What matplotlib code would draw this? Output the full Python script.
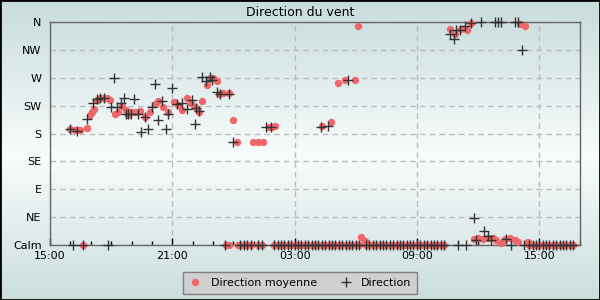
"""
Direction du vent sur 26 heures (moyenne et instantanée)
"""

import matplotlib
matplotlib.use('Agg')  # pas d'affichage
import matplotlib.pyplot as plt
from matplotlib.patches import Rectangle
import numpy as np

# heures écoulées depuis 15:00
moy_h = [0.98, 1.23, 1.47, 1.83, 1.96, 2.07, 2.17, 2.32, 2.45, 2.65, 2.81, 2.94,
         3.19, 3.35, 3.51, 3.71, 3.84, 3.92, 4.17, 4.41, 4.66, 4.90, 5.15, 5.31,
         5.55, 5.80, 6.09, 6.29, 6.49, 6.70, 6.91, 7.11, 7.30, 7.47, 7.68, 7.84,
         8.00, 8.17, 8.28, 8.50, 8.79, 8.99, 9.15, 9.97, 10.18, 10.46, 10.74, 10.90,
         11.03, 13.32, 13.77, 14.13, 14.49, 14.97, 15.11, 15.28, 15.44,
         19.61, 19.85, 20.18, 20.46, 20.67, 20.78, 20.99, 21.24, 21.49, 21.73,
         21.90, 22.14, 22.30, 22.58, 22.79, 22.96, 23.04, 23.28, 23.45]
moy_deg = [188, 185, 185, 189, 210, 215, 219, 234, 238, 238, 237, 234,
           212, 215, 225, 218, 210, 215, 214, 217, 206, 215, 227, 232,
           223, 215, 231, 226, 218, 237, 230, 223, 215, 232, 258, 270,
           269, 265, 243, 245, 245, 202, 166, 166, 166, 166, 190, 191,
           192, 192, 198, 261, 266, 266, 354, 13, 7,
           348, 341, 348, 347, 359, 9, 11, 9, 11, 12,
           8, 3, 9, 12, 8, 5, 357, 354, 5]

dir_h = [0.98, 1.31, 1.83, 2.12, 2.29, 2.45, 2.66, 2.98, 3.15, 3.27, 3.47, 3.63,
         3.73, 3.84, 3.97, 4.13, 4.33, 4.46, 4.66, 4.82, 4.99, 5.15, 5.31, 5.48,
         5.67, 5.80, 5.99, 6.21, 6.46, 6.70, 6.95, 7.11, 7.14, 7.30, 7.44, 7.63,
         7.84, 7.96, 8.17, 8.33, 8.79, 8.99, 10.62, 10.83, 13.28, 13.64, 14.62,
         19.61, 19.80, 19.94, 20.13, 20.34, 20.67, 20.78, 20.92, 21.16, 21.29,
         21.49, 21.65, 21.81, 21.98, 22.11, 22.39, 22.83, 22.96, 23.15]
dir_deg = [187, 184, 203, 229, 235, 238, 238, 223, 269, 222, 230, 238,
           212, 211, 211, 235, 211, 183, 206, 188, 223, 260, 202, 233,
           187, 212, 254, 227, 230, 220, 234, 195, 221, 216, 271, 265,
           271, 266, 247, 243, 243, 166, 190, 191, 191, 192, 266,
           340, 332, 347, 347, 353, 359, 43, 8, 360, 23,
           15, 8, 360, 360, 360, 9, 360, 360, 315]

# relevés en calme (direction 0)
calme_moy_h = [1.62, 8.63, 8.77, 9.22, 9.38, 9.53, 9.68, 9.84, 10.20, 10.40,
               11.00, 11.17, 11.33, 11.50, 11.67, 11.83, 12.00, 12.17, 12.33, 12.50,
               12.67, 12.83, 13.00, 13.17, 13.33, 13.50, 13.67, 13.83, 14.00, 14.17,
               14.33, 14.50, 14.67, 14.83, 15.00, 15.17, 15.50, 15.67, 15.83, 16.00,
               16.17, 16.33, 16.50, 16.67, 16.83, 17.00, 17.17, 17.33, 17.50, 17.67,
               17.83, 18.00, 18.17, 18.33, 18.50, 18.67, 18.83, 19.00, 19.17, 19.33,
               23.50, 23.67, 23.83, 24.00, 24.17, 24.33, 24.50, 24.67, 24.83, 25.00,
               25.17, 25.33, 25.50, 25.67]
calme_dir_h = [1.13, 1.62, 2.84, 8.60, 9.30, 9.50, 9.68, 9.84, 10.20, 10.40,
               11.00, 11.17, 11.33, 11.50, 11.67, 11.83, 12.00, 12.17, 12.33, 12.50,
               12.67, 12.83, 13.00, 13.17, 13.33, 13.50, 13.67, 13.83, 14.00, 14.17,
               14.33, 14.50, 14.67, 14.83, 15.00, 15.17, 15.50, 15.67, 15.83, 16.00,
               16.17, 16.33, 16.50, 16.67, 16.83, 17.00, 17.17, 17.33, 17.50, 17.67,
               17.83, 18.00, 18.17, 18.33, 18.50, 18.67, 18.83, 19.00, 19.17, 19.33,
               20.00, 20.40, 22.63, 23.24, 23.50, 23.67, 23.83, 24.00, 24.17, 24.33,
               24.50, 24.67, 24.83, 25.00, 25.17, 25.33, 25.50, 25.67]

directions = ['Calm', 'NE', 'E', 'SE', 'S', 'SW', 'W', 'NW', 'N']
heures_labels = ['15:00', '21:00', '03:00', '09:00', '15:00']

ROUGE = '#f0666a'
NOIR = '#333333'

fig = plt.figure(figsize=(6, 3), dpi=100)

# fond en dégradé (sarcelle -> blanc -> sarcelle)
bg = fig.add_axes([0, 0, 1, 1], zorder=-10)
t = np.linspace(0, 1, 300)
w = 1 - np.abs(t - 0.52) / 0.52
haut = np.array([200, 219, 219]) / 255
blanc = np.array([248, 252, 252]) / 255
grad = haut[None, :] + (blanc - haut)[None, :] * w[:, None]
bg.imshow(grad[:, None, :], aspect='auto', extent=[0, 1, 0, 1])
bg.axis('off')

ax = fig.add_axes([50 / 600, 55 / 300, 530 / 600, 223 / 300])
ax.patch.set_alpha(0)

ax.plot(moy_h, moy_deg, 'o', color=ROUGE, ms=5.3, mec='none', clip_on=False, zorder=3)
ax.plot(calme_moy_h, np.zeros(len(calme_moy_h)), 'o', color=ROUGE, ms=5.3, mec='none',
        clip_on=False, zorder=3)
ax.plot(dir_h, dir_deg, '+', color=NOIR, ms=7, mew=1, clip_on=False, zorder=4)
ax.plot(calme_dir_h, np.zeros(len(calme_dir_h)), '+', color=NOIR, ms=7, mew=1,
        clip_on=False, zorder=4)

ax.set_xlim(0, 26)
ax.set_ylim(0, 360)
ax.set_yticks(np.arange(0, 361, 45))
ax.set_yticklabels(directions)
ax.set_xticks([0, 6, 12, 18, 24])
ax.set_xticklabels(heures_labels)
ax.set_xticks(np.arange(0, 27, 1), minor=True)

ax.tick_params(axis='x', which='major', direction='in', length=5, width=1,
               color='black', pad=4, labelsize=8)
ax.tick_params(axis='x', which='minor', direction='in', length=3, width=1, color='black')
ax.tick_params(axis='y', length=0, pad=6, labelsize=8)
ax.grid(True, which='major', ls=(0, (4, 3)), color='#bbbbbb', lw=1)

for s in ax.spines.values():
    s.set_color('#666666')
    s.set_linewidth(1)

fig.text(0.5, 1 - 12 / 300, 'Direction du vent', ha='center', va='center', fontsize=9)

h1, = ax.plot([], [], 'o', color=ROUGE, ms=5.3, mec='none')
h2, = ax.plot([], [], '+', color=NOIR, ms=7, mew=1)
leg = fig.legend([h1, h2], ['Direction moyenne', 'Direction'], loc='center',
                 bbox_to_anchor=(0.5, 1 - 283 / 300), ncol=2, fontsize=8,
                 fancybox=False, framealpha=1, facecolor='#d0d0d0', edgecolor='#808080',
                 handlelength=1.2, handletextpad=0.8, columnspacing=2.0,
                 borderpad=0.5)

fig.patches.append(Rectangle((0, 0), 1, 1, transform=fig.transFigure, fill=False,
                             ec='black', lw=2))

plt.savefig('out.png', dpi=100)
plt.close()
